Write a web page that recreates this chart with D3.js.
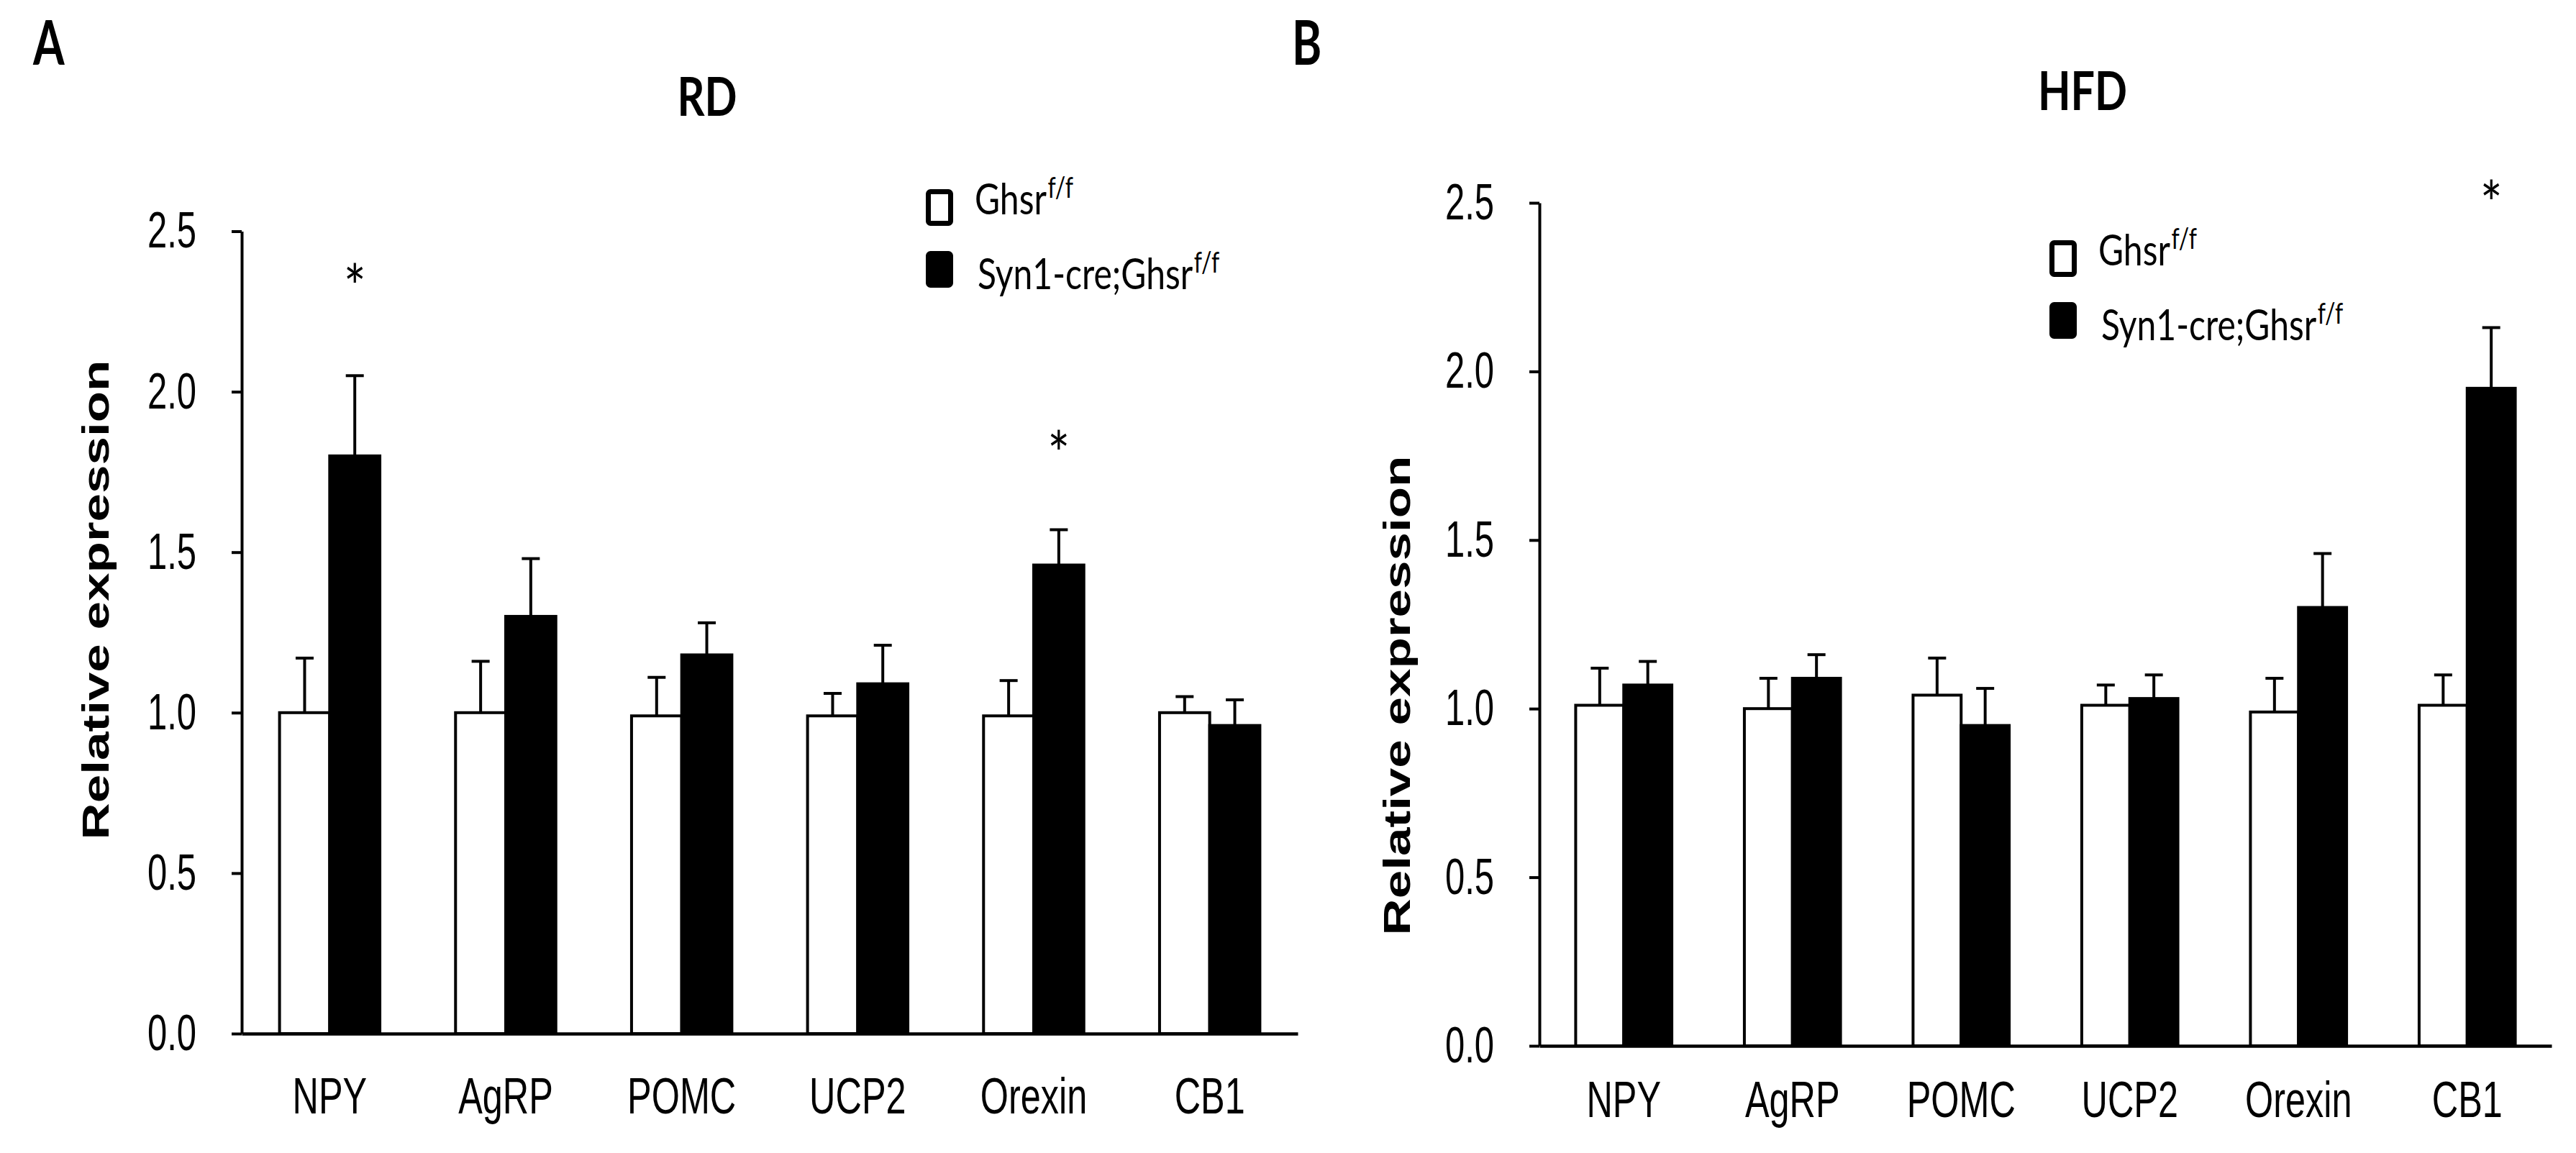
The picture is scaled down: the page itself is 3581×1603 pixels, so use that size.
<!DOCTYPE html>
<html>
<head>
<meta charset="utf-8">
<script src="https://cdn.jsdelivr.net/npm/d3@7"></script>
<style>
  body { margin: 0; background: #fff; }
  svg { display: block; }
</style>
</head>
<body>
<div id="chart"></div>
<script>
// genes on the x axis
const genes = ["NPY", "AgRP", "POMC", "UCP2", "Orexin", "CB1"];
const yTicks = [0, 0.5, 1.0, 1.5, 2.0, 2.5];
const legendLabels = ["Ghsr", "Syn1-cre;Ghsr"];
const legendSup = "f/f";

// RD (regular diet)
const rdCtrl = [1.00, 1.00, 0.99, 0.99, 0.99, 1.00];
const rdCtrlErr = [0.17, 0.16, 0.12, 0.07, 0.11, 0.05];
const rdKO = [1.80, 1.30, 1.18, 1.09, 1.46, 0.96];
const rdKOErr = [0.25, 0.18, 0.10, 0.12, 0.11, 0.08];
const rdStars = [2.36, null, null, null, 1.84, null];

// HFD (high fat diet)
const hfdCtrl = [1.01, 1.00, 1.04, 1.01, 0.99, 1.01];
const hfdCtrlErr = [0.11, 0.09, 0.11, 0.06, 0.10, 0.09];
const hfdKO = [1.07, 1.09, 0.95, 1.03, 1.30, 1.95];
const hfdKOErr = [0.07, 0.07, 0.11, 0.07, 0.16, 0.18];
const hfdStars = [null, null, null, null, null, 2.53];

const width = 3581;
const height = 1603;

const sans = "'Liberation Sans', Arial, Helvetica, sans-serif";
const soft = "Lato, 'Open Sans', 'Noto Sans', sans-serif";

const svg = d3.select("#chart")
    .append("svg")
    .attr("width", width)
    .attr("height", height)
    .attr("viewBox", [0, 0, width, height]);

const panels = [
    {letter: "A", title: "RD", ctrl: rdCtrl, ctrlErr: rdCtrlErr, ko: rdKO, koErr: rdKOErr, stars: rdStars,
     left: 336, right: 1804, top: 321.5, bottom: 1437, labelY: 111,
     titleX: 151, titleY: 834, legX: 1287, legY: 263,
     headX: 983, headY: 161, letterX: 46, letterY: 90},
    {letter: "B", title: "HFD", ctrl: hfdCtrl, ctrlErr: hfdCtrlErr, ko: hfdKO, koErr: hfdKOErr, stars: hfdStars,
     left: 2140, right: 3547, top: 282, bottom: 1454, labelY: 99,
     titleX: 1960, titleY: 967, legX: 2849, legY: 334,
     headX: 2895, headY: 153, letterX: 1796, letterY: 90}
];

function drawPanel(p) {
    const g = svg.append("g");

    const x = d3.scaleBand().domain(genes).range([p.left, p.right]);
    const y = d3.scaleLinear().domain([0, 2.5]).range([p.bottom, p.top]);
    const bw = x.bandwidth() * 0.285;
    const mid = d => x(d) + x.bandwidth() / 2;

    const rows = genes.map((gene, i) => ({
        gene, ctrl: p.ctrl[i], ctrlErr: p.ctrlErr[i], ko: p.ko[i], koErr: p.koErr[i], star: p.stars[i]
    }));

    // white bars (control)
    g.append("g")
        .selectAll("rect")
        .data(rows)
        .join("rect")
            .attr("x", d => mid(d.gene) - bw)
            .attr("y", d => y(d.ctrl))
            .attr("width", bw)
            .attr("height", d => y(0) - y(d.ctrl))
            .attr("fill", "#fff")
            .attr("stroke", "#000")
            .attr("stroke-width", 4)

    // black bars (knockout)
    g.append("g")
        .selectAll("rect")
        .data(rows)
        .join("rect")
            .attr("x", d => mid(d.gene))
            .attr("y", d => y(d.ko))
            .attr("width", bw)
            .attr("height", d => y(0) - y(d.ko))
            .attr("fill", "#000")
            .attr("stroke", "#000")
            .attr("stroke-width", 4)

    // upper error bars
    const errs = rows.flatMap(d => [
        {cx: mid(d.gene) - bw / 2, v: d.ctrl, e: d.ctrlErr},
        {cx: mid(d.gene) + bw / 2, v: d.ko, e: d.koErr}
    ]);
    const eg = g.append("g").attr("stroke", "#000").attr("stroke-width", 4);
    eg.selectAll(".stem")
        .data(errs)
        .join("line")
            .attr("x1", d => d.cx).attr("x2", d => d.cx)
            .attr("y1", d => y(d.v)).attr("y2", d => y(d.v + d.e));
    eg.selectAll(".cap")
        .data(errs)
        .join("line")
            .attr("x1", d => d.cx - 12.5).attr("x2", d => d.cx + 12.5)
            .attr("y1", d => y(d.v + d.e)).attr("y2", d => y(d.v + d.e));

    // significance stars
    g.append("g")
        .selectAll("text")
        .data(rows.filter(d => d.star != null))
        .join("text")
            .attr("transform", d => `translate(${mid(d.gene) + bw / 2},${y(d.star) + 46}) scale(0.85,1)`)
            .attr("text-anchor", "middle")
            .attr("font-family", soft)
            .attr("font-size", 86)
            .text("*")

    // y axis
    const yAxis = g.append("g")
        .attr("transform", `translate(${p.left},0)`)
        .call(d3.axisLeft(y).tickValues(yTicks).tickSize(14).tickSizeOuter(0).tickFormat(d3.format(".1f")));
    yAxis.selectAll("path, line").attr("stroke", "#000").attr("stroke-width", 4);
    yAxis.selectAll("text")
        .attr("x", null)
        .attr("transform", "translate(-63,0) scale(0.7,1)")
        .attr("font-family", sans)
        .attr("font-size", 70)
        .attr("fill", "#000");

    // x axis
    const xAxis = g.append("g")
        .attr("transform", `translate(0,${p.bottom})`)
        .call(d3.axisBottom(x).tickSize(0).tickSizeOuter(0));
    xAxis.select(".domain").attr("stroke", "#000").attr("stroke-width", 4.5);
    xAxis.selectAll("text")
        .attr("y", null)
        .attr("dy", null)
        .attr("transform", `translate(0,${p.labelY}) scale(0.72,1)`)
        .attr("font-family", sans)
        .attr("font-size", 70)
        .attr("fill", "#000");

    // axis title
    g.append("text")
        .attr("transform", `translate(${p.titleX},${p.titleY}) scale(0.72,1) rotate(-90)`)
        .attr("text-anchor", "middle")
        .attr("font-family", sans)
        .attr("font-weight", "bold")
        .attr("font-size", 71)
        .text("Relative expression");

    // panel heading + letter
    g.append("text")
        .attr("transform", `translate(${p.headX},${p.headY}) scale(0.8,1)`)
        .attr("text-anchor", "middle")
        .attr("font-family", soft)
        .attr("font-weight", "bold")
        .attr("font-size", 74)
        .text(p.title);

    g.append("text")
        .attr("transform", `translate(${p.letterX},${p.letterY}) scale(0.73,1)`)
        .attr("font-family", soft)
        .attr("font-weight", "bold")
        .attr("font-size", 86)
        .text(p.letter);

    // legend
    const lg = g.append("g");
    legendLabels.forEach((label, i) => {
        lg.append("rect")
            .attr("x", p.legX + 3.5)
            .attr("y", p.legY + 3.5 + i * 86)
            .attr("width", 31)
            .attr("height", 44)
            .attr("rx", 3)
            .attr("fill", i ? "#000" : "#fff")
            .attr("stroke", "#000")
            .attr("stroke-width", 7);
        const t = lg.append("text")
            .attr("transform", `translate(${p.legX + 68 + i * 4},${p.legY + 35 + i * 104}) scale(0.8,1)`)
            .attr("font-family", soft)
            .attr("font-size", 60)
            .text(label);
        t.append("tspan")
            .attr("dx", 2)
            .attr("dy", -23)
            .attr("font-size", 40)
            .text(legendSup);
    });
}

panels.forEach(drawPanel);
</script>
</body>
</html>
